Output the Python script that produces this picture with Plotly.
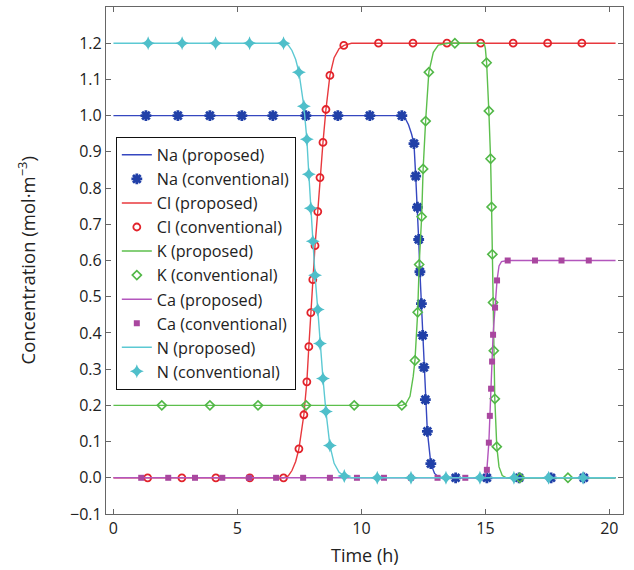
import plotly.graph_objects as go

# ---------------- data ----------------
# Na
na_line_t = [0, 11.63, 11.75, 11.9, 12.02, 12.12, 12.19, 12.26, 12.31, 12.36, 12.42, 12.47, 12.52, 12.58, 12.66, 12.8, 12.95, 13.1, 13.25, 20.25]
na_line_v = [1.0, 1.0, 0.995, 0.975, 0.95, 0.923, 0.833, 0.747, 0.658, 0.569, 0.481, 0.393, 0.305, 0.216, 0.128, 0.039, 0.012, 0.003, 0.0, 0.0]
na_conv_t = [1.31, 2.60, 3.89, 5.18, 6.43, 7.76, 9.05, 10.34, 11.63, 12.12, 12.19, 12.26, 12.31, 12.36, 12.42, 12.47, 12.52, 12.58, 12.66, 12.8, 13.80, 15.06, 16.36, 17.65, 18.97]
na_conv_v = [1.0, 1.0, 1.0, 1.0, 1.0, 1.0, 1.0, 1.0, 1.0, 0.923, 0.833, 0.747, 0.658, 0.569, 0.481, 0.393, 0.305, 0.216, 0.128, 0.039, 0.0, 0.0, 0.0, 0.0, 0.0]

# Cl
cl_line_t = [0, 6.86, 7.05, 7.2, 7.35, 7.48, 7.68, 7.80, 7.88, 7.96, 8.04, 8.13, 8.24, 8.33, 8.45, 8.57, 8.73, 8.9, 9.1, 9.3, 9.6, 20.25]
cl_line_v = [0.0, 0.0, 0.005, 0.02, 0.045, 0.08, 0.174, 0.265, 0.362, 0.456, 0.547, 0.641, 0.735, 0.829, 0.926, 1.017, 1.111, 1.16, 1.185, 1.194, 1.2, 1.2]
cl_conv_t = [1.38, 2.76, 4.13, 5.50, 6.86, 7.48, 7.68, 7.80, 7.88, 7.96, 8.04, 8.13, 8.24, 8.33, 8.45, 8.57, 8.73, 9.29, 10.69, 12.08, 13.45, 14.81, 16.12, 17.51, 18.89]
cl_conv_v = [0.0, 0.0, 0.0, 0.0, 0.0, 0.08, 0.174, 0.265, 0.362, 0.456, 0.547, 0.641, 0.735, 0.829, 0.926, 1.017, 1.111, 1.194, 1.2, 1.2, 1.2, 1.2, 1.2, 1.2, 1.2]

# K
k_line_t = [0, 11.63, 11.8, 11.96, 12.09, 12.16, 12.27, 12.33, 12.43, 12.49, 12.59, 12.72, 12.9, 13.1, 13.5, 14.95, 15.0, 15.05, 15.14, 15.21, 15.25, 15.28, 15.31, 15.34, 15.38, 15.46, 15.55, 15.68, 15.85, 20.25]
k_line_v = [0.2, 0.2, 0.205, 0.225, 0.28, 0.324, 0.457, 0.589, 0.721, 0.853, 0.985, 1.12, 1.175, 1.195, 1.2, 1.2, 1.185, 1.146, 1.013, 0.881, 0.748, 0.617, 0.484, 0.351, 0.218, 0.086, 0.03, 0.006, 0.0, 0.0]
k_conv_t = [1.95, 3.89, 5.83, 7.77, 9.71, 11.63, 12.16, 12.27, 12.33, 12.43, 12.49, 12.59, 12.72, 13.77, 15.05, 15.14, 15.21, 15.25, 15.28, 15.31, 15.34, 15.38, 15.46, 16.39, 18.33]
k_conv_v = [0.2, 0.2, 0.2, 0.2, 0.2, 0.2, 0.324, 0.457, 0.589, 0.721, 0.853, 0.985, 1.12, 1.2, 1.146, 1.013, 0.881, 0.748, 0.617, 0.484, 0.351, 0.218, 0.086, 0.0, 0.0]

# Ca
ca_line_t = [0, 14.98, 15.02, 15.06, 15.14, 15.18, 15.23, 15.27, 15.31, 15.39, 15.47, 15.55, 15.65, 15.9, 20.25]
ca_line_v = [0.0, 0.0, 0.01, 0.022, 0.097, 0.171, 0.246, 0.321, 0.395, 0.470, 0.545, 0.585, 0.597, 0.6, 0.6]
ca_conv_t = [1.12, 2.21, 3.29, 4.39, 5.47, 6.56, 7.65, 8.73, 9.82, 10.91, 12.0, 13.07, 14.19, 15.06, 15.14, 15.18, 15.23, 15.27, 15.31, 15.39, 15.47, 15.90, 17.0, 18.07, 19.17]
ca_conv_v = [0.0, 0.0, 0.0, 0.0, 0.0, 0.0, 0.0, 0.0, 0.0, 0.0, 0.0, 0.0, 0.0, 0.022, 0.097, 0.171, 0.246, 0.321, 0.395, 0.470, 0.545, 0.6, 0.6, 0.6, 0.6]

# N
n_line_t = [0, 6.86, 7.05, 7.2, 7.35, 7.48, 7.68, 7.80, 7.88, 7.96, 8.04, 8.13, 8.24, 8.33, 8.45, 8.57, 8.73, 8.9, 9.1, 9.3, 9.6, 20.25]
n_line_v = [1.2, 1.2, 1.195, 1.18, 1.155, 1.12, 1.026, 0.935, 0.838, 0.744, 0.653, 0.559, 0.465, 0.371, 0.274, 0.183, 0.089, 0.04, 0.015, 0.006, 0.0, 0.0]
n_conv_t = [1.40, 2.77, 4.12, 5.49, 6.86, 7.48, 7.68, 7.80, 7.88, 7.96, 8.04, 8.13, 8.24, 8.33, 8.45, 8.57, 8.73, 9.31, 10.64, 12.0, 13.41, 14.78, 16.15, 17.55, 18.94]
n_conv_v = [1.2, 1.2, 1.2, 1.2, 1.2, 1.12, 1.026, 0.935, 0.838, 0.744, 0.653, 0.559, 0.465, 0.371, 0.274, 0.183, 0.089, 0.005, 0.0, 0.0, 0.0, 0.0, 0.0, 0.0, 0.0]

y_tickvals = [-0.1, 0.0, 0.1, 0.2, 0.3, 0.4, 0.5, 0.6, 0.7, 0.8, 0.9, 1.0, 1.1, 1.2]
y_ticktext = ["\u22120.1", "0.0", "0.1", "0.2", "0.3", "0.4", "0.5", "0.6", "0.7", "0.8", "0.9", "1.0", "1.1", "1.2"]
x_tickvals = [0, 5, 10, 15, 20]

# ---------------- figure ----------------
FONT = "Open Sans"
fig = go.Figure()

series = [
    ("Na", na_line_t, na_line_v, na_conv_t, na_conv_v, "#3547c0",
     dict(symbol="asterisk-open", size=9, color="#2140a8", line=dict(width=2.8, color="#2140a8"))),
    ("Cl", cl_line_t, cl_line_v, cl_conv_t, cl_conv_v, "#e8383d",
     dict(symbol="circle-open", size=7, color="#e2232b", line=dict(width=1.8, color="#e2232b"))),
    ("K", k_line_t, k_line_v, k_conv_t, k_conv_v, "#5cbf4c",
     dict(symbol="diamond-open", size=7, color="#52b848", line=dict(width=1.6, color="#52b848"))),
    ("Ca", ca_line_t, ca_line_v, ca_conv_t, ca_conv_v, "#b356bd",
     dict(symbol="square", size=6, color="#a9479f", line=dict(width=0))),
    ("N", n_line_t, n_line_v, n_conv_t, n_conv_v, "#5cc9d3",
     dict(symbol="star-diamond", size=10, color="#4fbfca", line=dict(width=0))),
]

for name, lt, lv, ct, cv, lc, mk in series:
    fig.add_trace(go.Scatter(x=lt, y=lv, mode="lines", name=f"{name} (proposed)",
                             line=dict(color=lc, width=1.4)))
    fig.add_trace(go.Scatter(x=ct, y=cv, mode="markers", name=f"{name} (conventional)",
                             marker=mk))

axis_common = dict(showline=True, linecolor="#666", linewidth=1.2, mirror="ticks",
                   ticks="inside", ticklen=5, tickcolor="#666", showgrid=False, zeroline=False,
                   automargin=False,
                   tickfont=dict(family=FONT, size=16, color="#222"))

fig.update_xaxes(range=[-0.3, 20.55], tickvals=x_tickvals, **axis_common)
fig.update_yaxes(range=[-0.1, 1.3], tickvals=y_tickvals, ticktext=y_ticktext, **axis_common)

fig.update_layout(
    width=634, height=570,
    margin=dict(l=106, r=11, t=7, b=56, autoexpand=False),
    paper_bgcolor="white", plot_bgcolor="white",
    showlegend=True,
    legend=dict(x=0.019, y=0.744, xanchor="left", yanchor="top",
                bgcolor="white", bordercolor="#111", borderwidth=1,
                font=dict(family=FONT, size=16.2, color="#222"),
                tracegroupgap=0, itemwidth=30, entrywidth=169, entrywidthmode="pixels"),
    annotations=[
        dict(text="Time (h)", xref="paper", yref="paper", x=0.5, y=-0.053,
             xanchor="center", yanchor="top", showarrow=False,
             font=dict(family=FONT, size=18, color="#222")),
        dict(text="Concentration (mol\u00b7m<sup>\u22123</sup>)", xref="paper", yref="paper",
             x=-0.153, y=0.5, xanchor="center", yanchor="middle", textangle=-90, showarrow=False,
             font=dict(family=FONT, size=18.5, color="#222")),
    ],
)

fig.write_html("out.html", post_script="document.body.style.margin='0';",
               config={"displayModeBar": False})
